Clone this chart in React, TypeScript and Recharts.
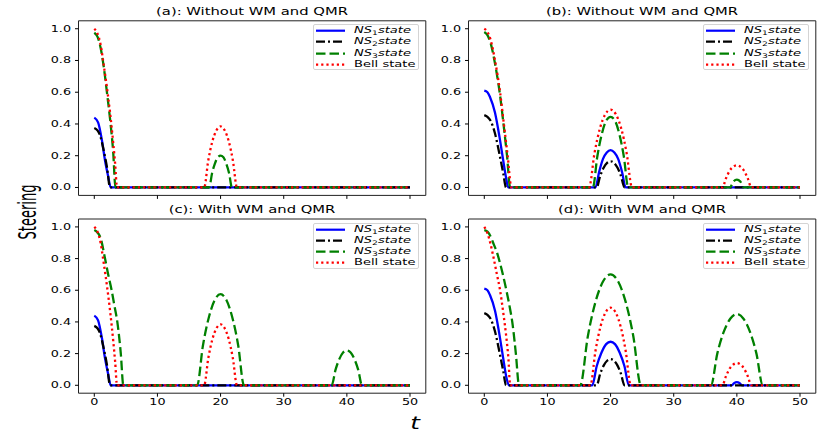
import React from "react";
import { LineChart, Line, XAxis, YAxis, ReferenceArea } from "recharts";

type Pt = [number, number];

// (a) without WM and QMR, first parameter set
const ns1A: Pt[] = [[0, 0.44], [0.6, 0.41], [1.2, 0.3], [1.7, 0.17], [2.2, 0.07], [2.6, 0], [50, 0]];
const ns2A: Pt[] = [[0, 0.375], [0.5, 0.36], [0.9, 0.33], [1.4, 0.25], [2, 0.13], [2.5, 0], [50, 0]];
const ns3A: Pt[] = [
  [0, 0.975], [0.5, 0.95], [1, 0.88], [1.5, 0.76], [2, 0.6], [2.5, 0.43], [3, 0.22], [3.35, 0],
  [18.2, 0], [18.65, 0.09], [19.1, 0.15], [19.55, 0.19], [20, 0.2], [20.45, 0.19], [20.9, 0.15], [21.35, 0.09], [21.8, 0],
  [50, 0],
];
const bellA: Pt[] = [
  [0, 1], [0.5, 0.97], [1, 0.9], [1.5, 0.77], [2, 0.63], [2.5, 0.47], [3, 0.28], [3.3, 0.15], [3.6, 0],
  [17.4, 0], [18.05, 0.17], [18.7, 0.29], [19.35, 0.36], [20, 0.385], [20.65, 0.36], [21.3, 0.29], [21.95, 0.17], [22.6, 0],
  [50, 0],
];

// (b) without WM and QMR, second parameter set
const ns1B: Pt[] = [
  [0, 0.61], [0.5, 0.6], [0.9, 0.57], [1.7, 0.47], [2.4, 0.32], [3, 0.17], [3.5, 0.05], [3.8, 0],
  [17.6, 0], [18.2, 0.1], [18.8, 0.18], [19.4, 0.22], [20, 0.235], [20.6, 0.22], [21.2, 0.18], [21.8, 0.1], [22.4, 0],
  [50, 0],
];
const ns2B: Pt[] = [
  [0, 0.456], [0.5, 0.445], [1, 0.42], [1.7, 0.34], [2.4, 0.21], [3, 0.09], [3.45, 0],
  [17.8, 0], [18.35, 0.072], [18.9, 0.124], [19.45, 0.155], [20, 0.165], [20.55, 0.155], [21.1, 0.124], [21.65, 0.072], [22.2, 0],
  [50, 0],
];
const ns3B: Pt[] = [
  [0, 0.98], [0.5, 0.96], [1, 0.91], [1.7, 0.78], [2.5, 0.58], [3.1, 0.38], [3.6, 0.2], [4.1, 0],
  [17.2, 0], [17.9, 0.195], [18.6, 0.335], [19.3, 0.42], [20, 0.445], [20.7, 0.42], [21.4, 0.335], [22.1, 0.195], [22.8, 0],
  [38.9, 0], [39.45, 0.037], [40, 0.05], [40.55, 0.037], [41.1, 0],
  [50, 0],
];
const bellB: Pt[] = [
  [0, 1], [0.5, 0.98], [1, 0.93], [1.7, 0.8], [2.5, 0.6], [3.1, 0.4], [3.7, 0.2], [4.3, 0],
  [16.6, 0], [17.45, 0.215], [18.3, 0.37], [19.15, 0.46], [20, 0.49], [20.85, 0.46], [21.7, 0.37], [22.55, 0.215], [23.4, 0],
  [37.7, 0], [38.3, 0.06], [38.85, 0.105], [39.4, 0.13], [40, 0.14], [40.6, 0.13], [41.15, 0.105], [41.7, 0.06], [42.3, 0],
  [50, 0],
];

// (c) with WM and QMR, first parameter set
const ns1C: Pt[] = ns1A;
const ns2C: Pt[] = ns2A;
const ns3C: Pt[] = [
  [0, 0.98], [0.5, 0.965], [1, 0.93], [1.7, 0.8], [2.2, 0.7], [2.75, 0.6], [3.2, 0.5], [3.65, 0.4], [4.2, 0.2], [4.6, 0],
  [16.3, 0], [17.2, 0.25], [18.15, 0.43], [19.1, 0.54], [20, 0.575], [20.9, 0.54], [21.85, 0.43], [22.8, 0.25], [23.7, 0],
  [37.6, 0], [38.2, 0.097], [38.8, 0.165], [39.4, 0.207], [40, 0.22], [40.6, 0.207], [41.2, 0.165], [41.8, 0.097], [42.4, 0],
  [50, 0],
];
const bellC: Pt[] = bellA;

// (d) with WM and QMR, second parameter set
const ns1D: Pt[] = [
  [0, 0.61], [0.5, 0.6], [0.9, 0.57], [1.7, 0.47], [2.4, 0.32], [3, 0.17], [3.5, 0.05], [3.9, 0],
  [17.1, 0], [17.8, 0.12], [18.55, 0.205], [19.3, 0.26], [20, 0.275], [20.7, 0.26], [21.45, 0.205], [22.2, 0.12], [22.9, 0],
  [39.2, 0], [39.6, 0.015], [40, 0.02], [40.4, 0.015], [40.8, 0],
  [50, 0],
];
const ns2D: Pt[] = ns2B;
const ns3D: Pt[] = [
  [0, 0.98], [0.5, 0.97], [1, 0.94], [1.5, 0.89], [2, 0.84], [2.5, 0.77], [3, 0.69], [3.5, 0.6], [4, 0.5], [4.5, 0.38], [5, 0.2], [5.5, 0],
  [15.2, 0], [16.4, 0.31], [17.6, 0.525], [18.8, 0.655], [20, 0.7], [21.2, 0.655], [22.4, 0.525], [23.6, 0.31], [24.8, 0],
  [35.9, 0], [36.9, 0.2], [37.95, 0.34], [38.95, 0.42], [40, 0.45], [41.05, 0.42], [42.05, 0.34], [43.1, 0.2], [44.1, 0],
  [50, 0],
];
const bellD: Pt[] = [
  [0, 1], [0.5, 0.96], [1, 0.89], [1.5, 0.8], [2, 0.7], [2.5, 0.6], [3, 0.46], [3.5, 0.3], [3.8, 0.18], [4.1, 0],
  [16.8, 0], [17.6, 0.215], [18.4, 0.37], [19.2, 0.46], [20, 0.49], [20.8, 0.46], [21.6, 0.37], [22.4, 0.215], [23.2, 0],
  [37.7, 0], [38.3, 0.06], [38.85, 0.105], [39.4, 0.13], [40, 0.14], [40.6, 0.13], [41.15, 0.105], [41.7, 0.06], [42.3, 0],
  [50, 0],
];

const xTicks = [0, 10, 20, 30, 40, 50];
const yTicks = [0, 0.2, 0.4, 0.6, 0.8, 1.0];
const titles = ["(a): Without WM and QMR", "(b): Without WM and QMR", "(c): With WM and QMR", "(d): With WM and QMR"];

const W = 830;
const H = 436;
const XH = 20;
const FONT = "'DejaVu Sans', Verdana, sans-serif";
const STRETCH = 1.45; // the reference is squashed vertically, so text reads wide

const styles = [
  { color: "#0000ff", dash: undefined as string | undefined },
  { color: "#000000", dash: "9 3 2 3" },
  { color: "#008000", dash: "9.5 4" },
  { color: "#ff0000", dash: "2.2 3" },
];

const panels = [
  { left: 78.5, right: 425.8, top: 20.8, bottom: 195.4, labels: false, series: [ns1A, ns2A, ns3A, bellA] },
  { left: 468.5, right: 815.8, top: 20.8, bottom: 195.4, labels: false, series: [ns1B, ns2B, ns3B, bellB] },
  { left: 78.5, right: 425.8, top: 219, bottom: 393.2, labels: true, series: [ns1C, ns2C, ns3C, bellC] },
  { left: 468.5, right: 815.8, top: 219, bottom: 393.2, labels: true, series: [ns1D, ns2D, ns3D, bellD] },
];

const toPts = (arr: Pt[]) => arr.map(([t, v]) => ({ t, v }));

const YTick = (props: any) => {
  const { x, y, payload } = props;
  return (
    <g transform={`translate(${x},${y})`}>
      <text textAnchor="end" dy="0.34em" fontSize={8.8} fontFamily={FONT} fill="#000" transform={`scale(${STRETCH},1)`}>
        {Number(payload.value).toFixed(1)}
      </text>
    </g>
  );
};

const XTick = (props: any) => {
  const { x, y, payload } = props;
  return (
    <g transform={`translate(${x},${y})`}>
      <text textAnchor="middle" dy="0.74em" fontSize={8.8} fontFamily={FONT} fill="#000" transform={`scale(${STRETCH},1)`}>
        {payload.value}
      </text>
    </g>
  );
};

const NoTick = () => <g />;

const sub = { fontSize: "0.7em", verticalAlign: "-0.3em", lineHeight: 0 };
const legendLabels = [
  <><i>NS</i><span style={sub}>1</span><i>state</i></>,
  <><i>NS</i><span style={sub}>2</span><i>state</i></>,
  <><i>NS</i><span style={sub}>3</span><i>state</i></>,
  <>Bell state</>,
];

function LegendBox({ left, top }: { left: number; top: number }) {
  return (
    <div
      style={{
        position: "absolute",
        left,
        top,
        width: 106,
        height: 46,
        boxSizing: "border-box",
        border: "1px solid #d4d4d4",
        borderRadius: 2,
        background: "rgba(255,255,255,0.85)",
      }}
    >
      {styles.map((s, i) => (
        <div key={i} style={{ position: "absolute", left: 0, top: i * 11.2, height: 11.4, width: "100%" }}>
          <svg width={32} height={11.4} style={{ position: "absolute", left: 1, top: 0 }}>
            <line x1={1} y1={5.7} x2={30} y2={5.7} stroke={s.color} strokeWidth={2.2} strokeDasharray={s.dash} />
          </svg>
          <span
            style={{
              position: "absolute",
              left: 40,
              top: 0,
              lineHeight: "11.4px",
              fontSize: 9,
              fontFamily: FONT,
              whiteSpace: "nowrap",
              transform: `scaleX(${STRETCH})`,
              transformOrigin: "left center",
            }}
          >
            {legendLabels[i]}
          </span>
        </div>
      ))}
    </div>
  );
}

function Panel({ idx }: { idx: number }) {
  const p = panels[idx];
  return (
    <div style={{ position: "absolute", left: 0, top: 0 }}>
      <LineChart
        width={W}
        height={H}
        margin={{ top: p.top, right: W - p.right, bottom: H - p.bottom - XH, left: 0 }}
      >
        <XAxis
          dataKey="t"
          type="number"
          domain={[-2.5, 52.5]}
          ticks={xTicks}
          allowDataOverflow
          height={XH}
          axisLine={false}
          tickSize={3.5}
          tickMargin={2}
          tickLine={{ stroke: "#000" }}
          tick={p.labels ? <XTick /> : <NoTick />}
          interval={0}
        />
        <YAxis
          type="number"
          domain={[-0.05, 1.05]}
          ticks={yTicks}
          allowDataOverflow
          width={p.left}
          axisLine={false}
          tickSize={3.5}
          tickMargin={4}
          tickLine={{ stroke: "#000" }}
          tick={<YTick />}
          interval={0}
        />
        <ReferenceArea x1={-2.5} x2={52.5} y1={-0.05} y2={1.05} fill="none" stroke="#222" strokeWidth={1} />
        {p.series.map((arr, i) => (
          <Line
            key={i}
            data={toPts(arr)}
            dataKey="v"
            type="monotone"
            stroke={styles[i].color}
            strokeWidth={2.3}
            strokeDasharray={styles[i].dash}
            dot={false}
            activeDot={false}
            isAnimationActive={false}
          />
        ))}
      </LineChart>
      <div
        style={{
          position: "absolute",
          left: (p.left + p.right) / 2,
          top: p.top - 9,
          transform: `translate(-50%, -50%) scaleX(${STRETCH})`,
          fontSize: 10.2,
          fontFamily: FONT,
          whiteSpace: "nowrap",
          lineHeight: 1,
        }}
      >
        {titles[idx]}
      </div>
      <LegendBox left={p.right - 113} top={p.top + 3.5} />
    </div>
  );
}

export default function App() {
  return (
    <div style={{ position: "absolute", left: 0, top: 0, width: W, height: H, background: "#fff", overflow: "hidden" }}>
      {panels.map((_, i) => (
        <Panel key={i} idx={i} />
      ))}
      <div
        style={{
          position: "absolute",
          left: 28,
          top: 212,
          transform: "translate(-50%, -50%) rotate(-90deg) scale(1, 1.75)",
          fontSize: 14.5,
          fontFamily: "'DejaVu Sans Condensed', 'DejaVu Sans', sans-serif",
          whiteSpace: "nowrap",
          lineHeight: 1,
        }}
      >
        Steering
      </div>
      <div
        style={{
          position: "absolute",
          left: 415,
          top: 423,
          transform: `translate(-50%, -50%) scaleX(${STRETCH})`,
          fontSize: 17,
          fontStyle: "italic",
          fontFamily: FONT,
          lineHeight: 1,
        }}
      >
        t
      </div>
    </div>
  );
}
